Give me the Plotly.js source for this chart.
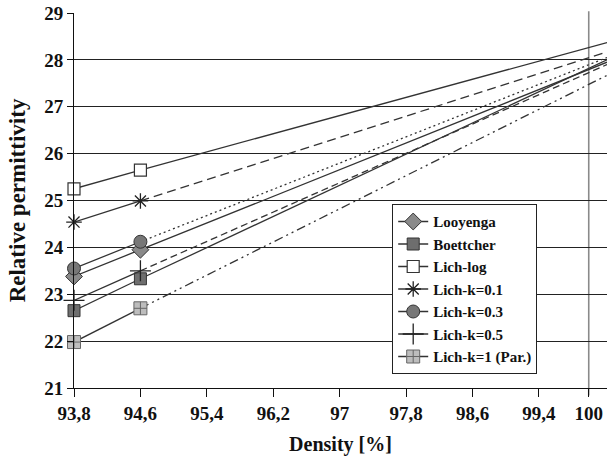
<!DOCTYPE html>
<html>
<head>
<meta charset="utf-8">
<script src="https://cdn.plot.ly/plotly-3.0.1.min.js"></script>
<style>
html,body{margin:0;padding:0;background:#fff;}
#chart{width:613px;height:466px;}
#chart svg text{font-family:'Liberation Serif' !important;font-weight:bold !important;}
</style>
</head>
<body>
<div id="chart"></div>
<script>
// Data
var seriesNames = ["Looyenga", "Boettcher", "Lich-log", "Lich-k=0.1", "Lich-k=0.3", "Lich-k=0.5", "Lich-k=1 (Par.)"];
var xMeasured = [93.8, 94.6];
var xEnd = 100.22;
var looyenga  = [23.38, 23.95];
var boettcher = [22.65, 23.33];
var lichLog   = [25.25, 25.65];
var lichK01   = [24.54, 24.99];
var lichK03   = [23.55, 24.12];
var lichK05   = [22.87, 23.50];
var lichK1    = [21.98, 22.70];
var endValues = [27.95, 28.00, 28.37, 28.17, 28.05, 27.90, 27.67];
var xTickVals = [93.8, 94.6, 95.4, 96.2, 97, 97.8, 98.6, 99.4, 100];
var xTickText = ["93,8", "94,6", "95,4", "96,2", "97", "97,8", "98,6", "99,4", "100"];

var measured = [looyenga, boettcher, lichLog, lichK01, lichK03, lichK05, lichK1];
var markers = [
  {symbol: "diamond", size: 13, color: "#8a8a8a", line: {color: "#333", width: 1}},
  {symbol: "square", size: 12, color: "#6e6e6e", line: {color: "#333", width: 1}},
  {symbol: "square", size: 12, color: "#ffffff", line: {color: "#333", width: 1.2}},
  {symbol: "asterisk-open", size: 13, color: "#222", line: {color: "#222", width: 1.3}},
  {symbol: "circle", size: 13, color: "#777777", line: {color: "#333", width: 1}},
  {symbol: "cross-thin-open", size: 15, color: "#222", line: {color: "#222", width: 1.3}},
  {symbol: "square-cross", size: 13, color: "#bdbdbd", line: {color: "#666", width: 1}}
];
var dashes = ["solid", "solid", "solid", "9px,5px", "2px,3px", "7px,4px", "9px,4px,2px,4px,2px,4px"];

var traces = [];
for (var i = 0; i < seriesNames.length; i++) {
  var v = measured[i];
  traces.push({
    x: [xMeasured[1], xEnd], y: [v[1], endValues[i]],
    mode: "lines", showlegend: false, hoverinfo: "skip",
    line: {color: "#333", width: 1.3, dash: dashes[i]}
  });
}
for (var j = 0; j < seriesNames.length; j++) {
  traces.push({
    x: xMeasured, y: measured[j], name: seriesNames[j],
    mode: "lines+markers", cliponaxis: false,
    line: {color: "#333", width: 1.3},
    marker: markers[j]
  });
}

var serif = "Liberation Serif";
var layout = {
  width: 613, height: 466,
  margin: {l: 74, r: 6, t: 13, b: 78},
  paper_bgcolor: "#fff", plot_bgcolor: "#fff",
  showlegend: true,
  xaxis: {
    range: [93.8, 100.22],
    tickmode: "array", tickvals: xTickVals, ticktext: xTickText,
    showgrid: false, zeroline: false,
    showline: true, linecolor: "#111", linewidth: 1,
    ticks: "outside", ticklen: 8, tickcolor: "#111",
    tickfont: {family: serif, size: 19, weight: "bold", color: "#111"},
    title: {text: "Density [%]", font: {family: serif, size: 20, weight: "bold", color: "#111"}, standoff: 14}
  },
  yaxis: {
    range: [21, 29], dtick: 1, tick0: 21,
    showgrid: true, gridcolor: "#222", gridwidth: 1,
    zeroline: false,
    showline: true, linecolor: "#111", linewidth: 1,
    ticks: "outside", ticklen: 6, tickcolor: "#111",
    tickfont: {family: serif, size: 19, weight: "bold", color: "#111"},
    title: {text: "Relative permittivity", font: {family: serif, size: 23, weight: "bold", color: "#111"}, standoff: 12}
  },
  legend: {
    x: 0.597, y: 0.49, xanchor: "left", yanchor: "top",
    bgcolor: "#fff", bordercolor: "#222", borderwidth: 1,
    font: {family: serif, size: 15, weight: "bold", color: "#111"},
    tracegroupgap: 0, itemwidth: 30, entrywidth: 140
  },
  shapes: [
    {type: "line", xref: "x", yref: "paper", x0: 100, x1: 100, y0: -0.02, y1: 1.005,
     line: {color: "#8a8a8a", width: 1.6}, layer: "below"}
  ]
};

Plotly.newPlot("chart", traces, layout, {displayModeBar: false, staticPlot: true});
</script>
</body>
</html>
